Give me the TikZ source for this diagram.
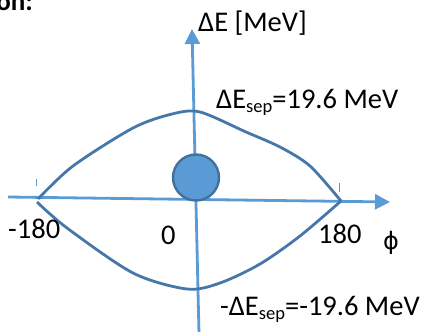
\documentclass[tikz,border=0pt]{standalone}
\usepackage{fontspec}
\setmainfont{Carlito}
\newfontfamily\symfont{DejaVu Sans}
\usetikzlibrary{arrows.meta}
\definecolor{axisblue}{HTML}{5B9BD5}
\definecolor{sepblue}{HTML}{4677A8}
\definecolor{ballborder}{HTML}{41719C}
\newcommand{\subsep}{{\fontsize{18.5}{18.5}\selectfont\raisebox{-4.5pt}{sep}}}
\begin{document}
\begin{tikzpicture}[x=1pt,y=-1pt,
  axis/.style={draw=axisblue,line width=2.8pt,-{Triangle[length=15pt,width=15pt]}},
  sepline/.style={draw=sepblue,line width=2.8pt},
  tickmark/.style={draw=axisblue,line width=1pt},
  lbl/.style={inner sep=0pt,font=\fontsize{28.5}{31}\selectfont}
]
\useasboundingbox (0,0) rectangle (426,332);
% axes
\coordinate (hstart) at (8,197);
\coordinate (hend) at (390,202);
\coordinate (vstart) at (199,334);
\coordinate (vend) at (192,29);
\draw[axis] (hstart) -- (hend);
\draw[axis] (vstart) -- (vend);
% ticks
\coordinate (tl1) at (36,179); \coordinate (tl2) at (36,186);
\coordinate (tr1) at (339,183); \coordinate (tr2) at (339,192);
\draw[tickmark] (tl1) -- (tl2);
\draw[tickmark] (tr1) -- (tr2);
% separatrix
\draw[sepline] plot[smooth,tension=0.5] coordinates {(38,199) (73,166) (133,128) (172,114) (200,112) (246,132) (280,147) (310,166) (341,201)};
\draw[sepline] plot[smooth,tension=0.5] coordinates {(37,202) (67,228) (133,273) (187,289) (220,283) (260,264) (300,236) (341,201)};
% bunch
\node[circle,draw=ballborder,fill=axisblue,line width=2.4pt,minimum size=46pt,inner sep=0pt] (ball) at (196,177.5) {};
% labels
\node[lbl,anchor=base east,font=\fontsize{27}{30}\selectfont\bfseries] (title) at (33,10) {on:};
\node[lbl,anchor=base west] (ylabel) at (198,31) {ΔE [MeV]};
\node[lbl,anchor=base west] (upsep) at (216,108) {ΔE\subsep=19.6 MeV};
\node[lbl,anchor=base west] (lowsep) at (220,315) {-ΔE\subsep=-19.6 MeV};
\node[lbl,anchor=base west] (m180) at (8,238) {-180};
\node[lbl,anchor=base west] (zero) at (161,244) {0};
\node[lbl,anchor=base west] (p180) at (318,243) {180};
\node[lbl,font=\fontsize{24}{28}\selectfont\symfont] (phi) at (391,243) {ϕ};
\end{tikzpicture}
\end{document}
